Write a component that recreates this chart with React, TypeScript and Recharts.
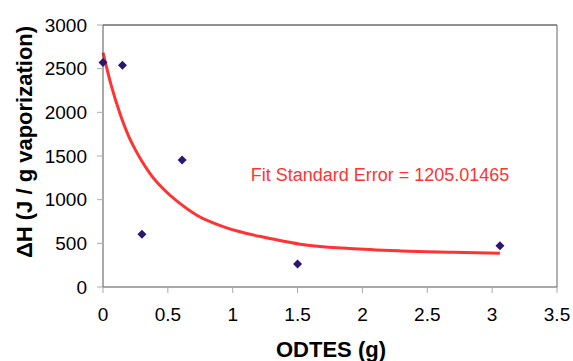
import { ComposedChart, Line, Scatter, XAxis, YAxis, ReferenceLine, ReferenceDot } from "recharts";

// measured points
const odtes = [0, 0.15, 0.3, 0.61, 1.5, 3.06];
const deltaH = [2570, 2540, 605, 1455, 262, 472];

// fitted curve
const fitX = [0, 0.065, 0.13, 0.2, 0.25, 0.3, 0.36, 0.46, 0.59, 0.72, 0.9, 1.1, 1.26, 1.52, 1.9, 2.3, 2.7, 3.06];
const fitY = [2683, 2300, 1990, 1720, 1570, 1440, 1305, 1130, 960, 825, 705, 615, 565, 490, 440, 413, 398, 386];

const xTicks = [0, 0.5, 1, 1.5, 2, 2.5, 3, 3.5];
const yTicks = [0, 500, 1000, 1500, 2000, 2500, 3000];

const fitLabel = "Fit Standard Error = 1205.01465";

const points = odtes.map((x, i) => ({ x, y: deltaH[i] }));
const fit = fitX.map((x, i) => ({ x, y: fitY[i] }));

const font = "'Liberation Sans', Arial, sans-serif";

const Diamond = (props: any) => {
  const { cx, cy } = props;
  const r = 4.5;
  return (
    <polygon
      points={`${cx},${cy - r} ${cx + r},${cy} ${cx},${cy + r} ${cx - r},${cy}`}
      fill="#2b1670"
    />
  );
};

export default function App() {
  return (
    <div style={{ position: "absolute", left: 0, top: 0 }}>
      <ComposedChart width={573} height={361} margin={{ top: 25, right: 16, bottom: 0, left: 0 }}>
        <XAxis
          type="number"
          dataKey="x"
          domain={[0, 3.5]}
          ticks={xTicks}
          height={74}
          tickSize={6}
          tickMargin={15}
          tick={{ fill: "#000", fontSize: 19, fontFamily: font }}
          tickLine={{ stroke: "#aaa" }}
          axisLine={{ stroke: "#555" }}
          label={{
            content: () => (
              <text x={331} y={357} textAnchor="middle" fontSize={22} fontWeight="bold" fontFamily={font} fill="#000">
                ODTES (g)
              </text>
            ),
          }}
        />
        <YAxis
          type="number"
          domain={[0, 3000]}
          ticks={yTicks}
          width={103}
          tickSize={6}
          tickMargin={10}
          tick={{ fill: "#000", fontSize: 19, fontFamily: font }}
          tickLine={{ stroke: "#aaa" }}
          axisLine={{ stroke: "#555" }}
          label={{
            content: () => (
              <text
                x={24}
                y={142}
                transform="rotate(-90, 24, 142)"
                textAnchor="middle"
                dominantBaseline="central"
                fontSize={22}
                fontWeight="bold"
                fontFamily={font}
                fill="#000"
              >
                ΔH (J / g vaporization)
              </text>
            ),
          }}
        />
        <ReferenceLine y={3000} stroke="#222" />
        <ReferenceLine x={3.5} stroke="#666" />
        <Line
          data={fit}
          dataKey="y"
          type="monotone"
          stroke="#ff3333"
          strokeWidth={3}
          dot={false}
          isAnimationActive={false}
        />
        <Scatter data={points} dataKey="y" shape={<Diamond />} isAnimationActive={false} />
        <ReferenceDot
          x={2.136}
          y={1282}
          r={0}
          ifOverflow="visible"
          label={{ value: fitLabel, position: "center", fill: "#ff3333", fontSize: 18, fontFamily: font }}
        />
      </ComposedChart>
    </div>
  );
}
